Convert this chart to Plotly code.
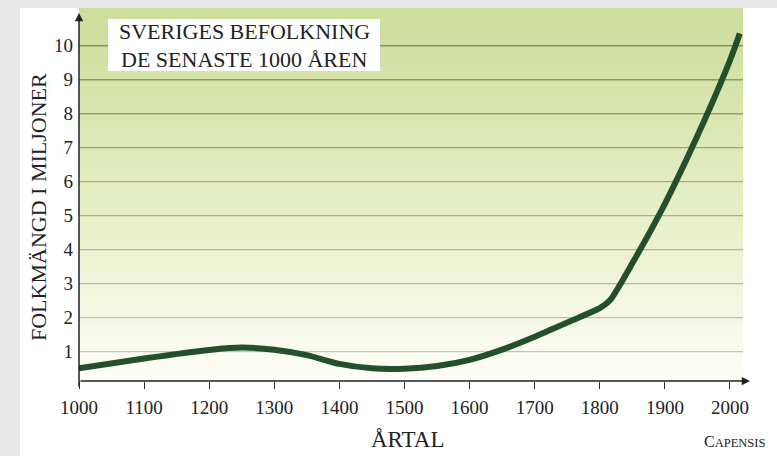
import plotly.graph_objects as go

# ---- data ----
years = [1000, 1100, 1200, 1250, 1300, 1350, 1400, 1450, 1500, 1550, 1600, 1650,
         1700, 1750, 1800, 1816, 1850, 1900, 1950, 2000, 2015]
population = [0.51, 0.80, 1.05, 1.12, 1.06, 0.90, 0.64, 0.51, 0.50, 0.58, 0.76, 1.06,
              1.44, 1.86, 2.28, 2.52, 3.6, 5.35, 7.35, 9.57, 10.36]
x_ticks = [1000, 1100, 1200, 1300, 1400, 1500, 1600, 1700, 1800, 1900, 2000]
y_ticks = [1, 2, 3, 4, 5, 6, 7, 8, 9, 10]
title_lines = ["SVERIGES BEFOLKNING", "DE SENASTE 1000 ÅREN"]
y_title = "FOLKMÄNGD I MILJONER"
x_title = "ÅRTAL"

W, H = 777, 456
L, R, T, B = 79, 743, 8, 381
XR = [1000, 2020]
YR = [0.138, 11.11]

def px(xp):
    return (xp - L) / (R - L)

def py(yp):
    return (B - yp) / (B - T)

SERIF = "Liberation Serif, Times New Roman, serif"

fig = go.Figure()
fig.add_trace(go.Scatter(
    x=years, y=population, mode="lines",
    line=dict(color="#23502a", width=6, shape="spline", smoothing=0.6),
    hoverinfo="skip", showlegend=False))

shapes = []
# white card
shapes.append(dict(type="rect", xref="paper", yref="paper",
                   x0=px(20), x1=px(W + 5), y0=py(H + 5), y1=py(8),
                   fillcolor="white", line=dict(width=0), layer="below"))
# gradient background
top = (205, 221, 155)
mid = (232, 239, 199)
bot = (254, 254, 248)
n = 60
for i in range(n):
    f = i / (n - 1)
    if f < 0.55:
        g = f / 0.55
        c = [top[k] + (mid[k] - top[k]) * g for k in range(3)]
    else:
        g = (f - 0.55) / 0.45
        c = [mid[k] + (bot[k] - mid[k]) * g for k in range(3)]
    y0p = T + (B - T) * i / n
    y1p = T + (B - T) * (i + 1) / n + 0.6
    shapes.append(dict(type="rect", xref="paper", yref="paper",
                       x0=0, x1=1, y0=py(min(y1p, B)), y1=py(y0p),
                       fillcolor="rgb(%d,%d,%d)" % tuple(int(v) for v in c),
                       line=dict(width=0), layer="below"))
# grid lines
for v in y_ticks:
    f = (v - 1) / 9
    c0 = (196, 196, 186)
    c1 = (132, 148, 104)
    c = [c0[k] + (c1[k] - c0[k]) * f for k in range(3)]
    shapes.append(dict(type="line", xref="paper", yref="y", x0=0, x1=1, y0=v, y1=v,
                       line=dict(color="rgb(%d,%d,%d)" % tuple(int(q) for q in c), width=1.3),
                       layer="below"))
# title box
shapes.append(dict(type="rect", xref="paper", yref="paper",
                   x0=px(108), x1=px(380), y0=py(71), y1=py(19),
                   fillcolor="white", line=dict(width=0), layer="above"))

annotations = []
annotations.append(dict(xref="paper", yref="paper", x=px(244), y=py(31), text=title_lines[0],
                        showarrow=False, font=dict(family=SERIF, size=22, color="#222"),
                        xanchor="center", yanchor="middle"))
annotations.append(dict(xref="paper", yref="paper", x=px(244), y=py(60), text=title_lines[1],
                        showarrow=False, font=dict(family=SERIF, size=22, color="#222"),
                        xanchor="center", yanchor="middle"))
annotations.append(dict(xref="paper", yref="paper", x=px(38), y=py(207), text=y_title,
                        textangle=-90, showarrow=False,
                        font=dict(family=SERIF, size=22, color="#222"),
                        xanchor="center", yanchor="middle"))
annotations.append(dict(xref="paper", yref="paper", x=px(407), y=py(440), text=x_title,
                        showarrow=False, font=dict(family=SERIF, size=23, color="#222"),
                        xanchor="center", yanchor="middle"))
annotations.append(dict(xref="paper", yref="paper", x=px(767), y=py(442),
                        text="C<span style='font-size:12.5px'>APENSIS</span>",
                        showarrow=False, font=dict(family=SERIF, size=16, color="#222"),
                        xanchor="right", yanchor="middle"))
# axis arrows
annotations.append(dict(xref="x", yref="y", axref="x", ayref="y",
                        x=XR[0] + (750 - L) / (R - L) * (XR[1] - XR[0]), y=YR[0],
                        ax=XR[0], ay=YR[0], text="", showarrow=True,
                        arrowhead=2, arrowsize=1.1, arrowwidth=1.5, arrowcolor="#222"))
annotations.append(dict(xref="x", yref="y", axref="x", ayref="y",
                        x=XR[0], y=YR[0] + (B - 13) / (B - T) * (YR[1] - YR[0]),
                        ax=XR[0], ay=YR[0] - 7 / (B - T) * (YR[1] - YR[0]), text="", showarrow=True,
                        arrowhead=2, arrowsize=1.1, arrowwidth=1.5, arrowcolor="#222"))

fig.update_layout(
    width=W, height=H,
    margin=dict(l=L, r=W - R, t=T, b=H - B, pad=0),
    paper_bgcolor="#e9e9e9", plot_bgcolor="white",
    shapes=shapes, annotations=annotations,
    xaxis=dict(range=XR, tickvals=x_ticks, ticks="outside", ticklen=7, tickwidth=1.3,
               tickcolor="#333", showgrid=False, zeroline=False, showline=False,
               tickfont=dict(family=SERIF, size=19, color="#222"), ticklabelstandoff=2,
               fixedrange=True),
    yaxis=dict(range=YR, tickvals=y_ticks, ticks="", showgrid=False, zeroline=False,
               showline=False, tickfont=dict(family=SERIF, size=19, color="#222"),
               ticklabelstandoff=5, fixedrange=True),
    showlegend=False,
)

fig.write_html("out.html", config={"displayModeBar": False},
               post_script="document.body.style.margin='0px';document.body.style.overflow='hidden';")
